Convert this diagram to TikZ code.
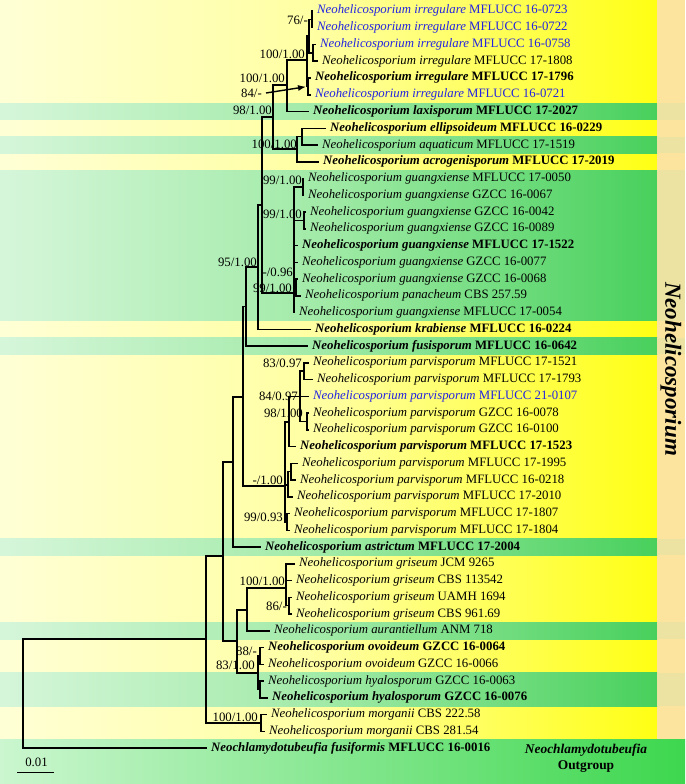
\documentclass[tikz,border=0pt]{standalone}
\usepackage{fontspec}
\setmainfont{Liberation Serif}
\usetikzlibrary{arrows.meta}

\definecolor{taxblue}{RGB}{35,35,225}
\definecolor{yelpale}{RGB}{255,255,214}
\definecolor{yelmid}{RGB}{255,255,160}
\definecolor{yelfull}{RGB}{255,255,20}
\definecolor{grnpale}{RGB}{214,246,218}
\definecolor{grnmid}{RGB}{160,234,166}
\definecolor{grnfull}{RGB}{72,208,92}
\definecolor{colyel}{RGB}{252,227,158}
\definecolor{colgrn}{RGB}{236,227,162}

\newcommand{\nh}[1]{\textit{Neohelicosporium #1}}

\begin{document}
\begin{tikzpicture}[x=1pt, y=-1pt, >=Latex,
  font=\fontsize{12.8}{14}\selectfont,
  taxon/.style={anchor=west, inner xsep=4pt, inner ysep=0pt, text height=9pt, text depth=3pt},
  taxonbold/.style={taxon, font=\fontsize{12.8}{14}\selectfont\bfseries},
  taxonblue/.style={taxon, text=taxblue},
  support/.style={anchor=east, inner sep=0pt, text height=8.5pt, text depth=0pt},
  branch/.style={line width=1.5pt},
  yelband/.style={left color=yelpale, right color=yelfull, middle color=yelmid},
  grnband/.style={left color=grnpale, right color=grnfull, middle color=grnmid}]

\useasboundingbox (0,0) rectangle (685,784);

% Background bands, green rows over the yellow
\shade[yelband] (0,0) rectangle (657,739.6);
\fill[colyel] (657,0) rectangle (685,739.6);
\foreach \a/\b in {7/7, 9/9, 11/19, 21/21, 33/33, 38/38, 41/42} {
  \shade[grnband] (0,{2.625+16.75*(\a-1)}) rectangle (657,{2.625+16.75*\b});
  \fill[colgrn] (657,{2.625+16.75*(\a-1)}) rectangle (685,{2.625+16.75*\b});
}
\shade[left color=grnpale!95!green, right color=grnfull!85!green] (0,739.6) rectangle (685,784);

% Genus and outgroup labels
\node[rotate=-90, font=\fontsize{23}{23}\selectfont\bfseries\itshape] (genus) at (671,369) {Neohelicosporium};
\node[font=\fontsize{13.4}{14}\selectfont\bfseries\itshape] (ogname) at (586,750) {Neochlamydotubeufia};
\node[font=\fontsize{13.4}{14}\selectfont\bfseries] (oglabel) at (586,767) {Outgroup};

% Taxa (tips)
\node[taxonblue] (t01) at (313,11) {\nh{irregulare} MFLUCC 16-0723};
\node[taxonblue] (t02) at (313,27.75) {\nh{irregulare} MFLUCC 16-0722};
\node[taxonblue] (t03) at (316,44.5) {\nh{irregulare} MFLUCC 16-0758};
\node[taxon] (t04) at (318,61.25) {\nh{irregulare} MFLUCC 17-1808};
\node[taxonbold] (t05) at (311,78) {\nh{irregulare} MFLUCC 17-1796};
\node[taxonblue] (t06) at (311,94.75) {\nh{irregulare} MFLUCC 16-0721};
\node[taxonbold] (t07) at (309,111.5) {\nh{laxisporum} MFLUCC 17-2027};
\node[taxonbold] (t08) at (326,128.25) {\nh{ellipsoideum} MFLUCC 16-0229};
\node[taxon] (t09) at (318,145) {\nh{aquaticum} MFLUCC 17-1519};
\node[taxonbold] (t10) at (319,161.75) {\nh{acrogenisporum} MFLUCC 17-2019};
\node[taxon] (t11) at (304,178.5) {\nh{guangxiense} MFLUCC 17-0050};
\node[taxon] (t12) at (304,195.25) {\nh{guangxiense} GZCC 16-0067};
\node[taxon] (t13) at (306,212) {\nh{guangxiense} GZCC 16-0042};
\node[taxon] (t14) at (306,228.75) {\nh{guangxiense} GZCC 16-0089};
\node[taxonbold] (t15) at (298,245.5) {\nh{guangxiense} MFLUCC 17-1522};
\node[taxon] (t16) at (298,262.25) {\nh{guangxiense} GZCC 16-0077};
\node[taxon] (t17) at (298,279) {\nh{guangxiense} GZCC 16-0068};
\node[taxon] (t18) at (301,295.75) {\nh{panacheum} CBS 257.59};
\node[taxon] (t19) at (295,312.5) {\nh{guangxiense} MFLUCC 17-0054};
\node[taxonbold] (t20) at (311,329.25) {\nh{krabiense} MFLUCC 16-0224};
\node[taxonbold] (t21) at (308,346) {\nh{fusisporum} MFLUCC 16-0642};
\node[taxon] (t22) at (309,362.75) {\nh{parvisporum} MFLUCC 17-1521};
\node[taxon] (t23) at (313,379.5) {\nh{parvisporum} MFLUCC 17-1793};
\node[taxonblue] (t24) at (309,396.25) {\nh{parvisporum} MFLUCC 21-0107};
\node[taxon] (t25) at (309,413) {\nh{parvisporum} GZCC 16-0078};
\node[taxon] (t26) at (309,429.75) {\nh{parvisporum} GZCC 16-0100};
\node[taxonbold] (t27) at (296,446.5) {\nh{parvisporum} MFLUCC 17-1523};
\node[taxon] (t28) at (298,463.25) {\nh{parvisporum} MFLUCC 17-1995};
\node[taxon] (t29) at (296,480) {\nh{parvisporum} MFLUCC 16-0218};
\node[taxon] (t30) at (293,496.75) {\nh{parvisporum} MFLUCC 17-2010};
\node[taxon] (t31) at (290,513.5) {\nh{parvisporum} MFLUCC 17-1807};
\node[taxon] (t32) at (290,530.25) {\nh{parvisporum} MFLUCC 17-1804};
\node[taxonbold] (t33) at (261,547) {\nh{astrictum} MFLUCC 17-2004};
\node[taxon] (t34) at (295,563.75) {\nh{griseum} JCM 9265};
\node[taxon] (t35) at (292,580.5) {\nh{griseum} CBS 113542};
\node[taxon] (t36) at (292,597.25) {\nh{griseum} UAMH 1694};
\node[taxon] (t37) at (292,614) {\nh{griseum} CBS 961.69};
\node[taxon] (t38) at (270,630.75) {\nh{aurantiellum} ANM 718};
\node[taxonbold] (t39) at (264,647.5) {\nh{ovoideum} GZCC 16-0064};
\node[taxon] (t40) at (264,664.25) {\nh{ovoideum} GZCC 16-0066};
\node[taxon] (t41) at (264,681) {\nh{hyalosporum} GZCC 16-0063};
\node[taxonbold] (t42) at (268,697.75) {\nh{hyalosporum} GZCC 16-0076};
\node[taxon] (t43) at (267,714.5) {\nh{morganii} CBS 222.58};
\node[taxon] (t44) at (265,731.25) {\nh{morganii} CBS 281.54};
\node[taxonbold] (t45) at (207,748) {\textit{Neochlamydotubeufia fusiformis} MFLUCC 16-0016};

% Internal nodes
\coordinate (root) at (23,693.5);
\coordinate (n206) at (206,639);
\coordinate (n223) at (223,556);
\coordinate (n233) at (233,462);
\coordinate (n243) at (243,397);
\coordinate (n246) at (246,306.5);
\coordinate (n258) at (258,267);
\coordinate (n262) at (262,205);
\coordinate (n273) at (273,117);
\coordinate (n287) at (287,85);
\coordinate (n307) at (307,60);
\coordinate (nIa) at (309,35.8);
\coordinate (nIb) at (312,19.4);
\coordinate (nId) at (313,52.9);
\coordinate (nIc) at (308,86.4);
\coordinate (n297) at (297,148.8);
\coordinate (nEl) at (302,136.6);
\coordinate (nGx) at (294,293);
\coordinate (nG1) at (303,186.9);
\coordinate (nG2) at (304,220.4);
\coordinate (nG3) at (296,287.4);
\coordinate (nP0) at (285,486);
\coordinate (nP1) at (289,422);
\coordinate (nP84) at (300,396.6);
\coordinate (nP83) at (304,371.1);
\coordinate (nP98) at (307,421.4);
\coordinate (nPM) at (288,485);
\coordinate (nPp) at (291,471.6);
\coordinate (nP9) at (287,522);
\coordinate (n237) at (237,641);
\coordinate (n247) at (247,610);
\coordinate (nGr) at (286,588);
\coordinate (nG86) at (289,605.6);
\coordinate (nOH) at (258,673);
\coordinate (nOv) at (260,655.9);
\coordinate (nHy) at (260,689.4);
\coordinate (nMor) at (261,723);

% Branches
\foreach \p/\c in {root/n206, root/t45, n206/n223, n206/nMor, n223/n233, n223/n237,
    n233/n243, n233/t33, n243/n246, n243/nP0, n246/n258, n246/t21,
    n258/n262, n258/t20, n262/n273, n262/nGx, n273/n287, n273/n297,
    n287/n307, n287/t07, n307/nIa, n307/nIc, nIa/nIb, nIa/nId,
    nIb/t01, nIb/t02, nId/t03, nId/t04, nIc/t05, nIc/t06,
    n297/nEl, n297/t10, nEl/t08, nEl/t09,
    nGx/nG1, nGx/nG2, nGx/t15, nGx/t16, nGx/nG3, nGx/t19,
    nG1/t11, nG1/t12, nG2/t13, nG2/t14, nG3/t17, nG3/t18,
    nP0/nP1, nP0/nPM, nP0/nP9, nP1/nP84, nP1/t27,
    nP84/nP83, nP84/t24, nP84/nP98, nP83/t22, nP83/t23, nP98/t25, nP98/t26,
    nPM/nPp, nPM/t30, nPp/t28, nPp/t29, nP9/t31, nP9/t32,
    n237/n247, n237/nOH, n247/nGr, n247/t38,
    nGr/t34, nGr/t35, nGr/nG86, nG86/t36, nG86/t37,
    nOH/nOv, nOH/nHy, nOv/t39, nOv/t40, nHy/t41, nHy/t42,
    nMor/t43, nMor/t44}
  \draw[branch] (\p) |- (\c);

% Support values
\node[support] (s01) at (308,20) {76/-};
\node[support] (s02) at (305,54) {100/1.00};
\node[support] (s03) at (285,78) {100/1.00};
\node[support] (s04) at (262,93) {84/-};
\node[support] (s05) at (272,110) {98/1.00};
\node[support] (s06) at (297,144) {100/1.00};
\node[support] (s07) at (302,180) {99/1.00};
\node[support] (s08) at (302,214) {99/1.00};
\node[support] (s09) at (257,262) {95/1.00};
\node[support] (s10) at (293,272) {-/0.96};
\node[support] (s11) at (292,288) {99/1.00};
\node[support] (s12) at (302,363) {83/0.97};
\node[support] (s13) at (298,396) {84/0.97};
\node[support] (s14) at (303,413) {98/1.00};
\node[support] (s15) at (283,480) {-/1.00};
\node[support] (s16) at (283,517) {99/0.93};
\node[support] (s17) at (285,581) {100/1.00};
\node[support] (s18) at (287,606) {86/-};
\node[support] (s19) at (257,651) {88/-};
\node[support] (s20) at (255,665) {83/1.00};
\node[support] (s21) at (258,717) {100/1.00};
\draw[-{Latex[length=8pt, width=6pt]}, line width=1.4pt, shorten >=2pt] ([xshift=4pt]s04.east) -- (nIc);

% Scale bar
\coordinate (sbl) at (17,772);
\coordinate (sbr) at (54,772);
\draw[line width=1pt] (sbl) -- (sbr);
\node (sblabel) at (36.5,762) {0.01};

\end{tikzpicture}
\end{document}
